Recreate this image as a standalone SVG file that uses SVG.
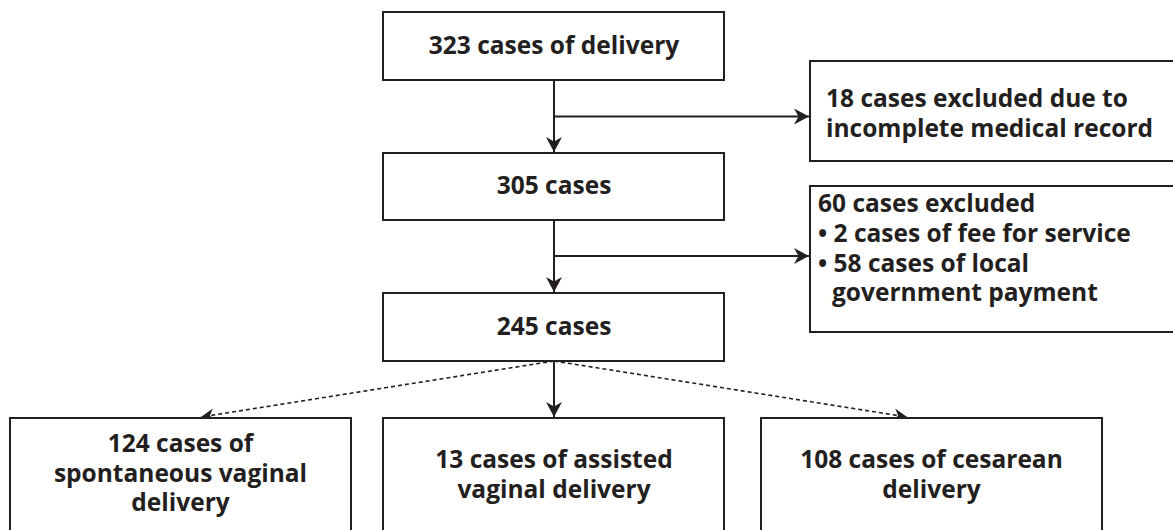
<svg xmlns="http://www.w3.org/2000/svg" width="1173" height="530" viewBox="0 0 1173 530">
<defs>
<marker id="ah" markerUnits="userSpaceOnUse" markerWidth="20" markerHeight="20" viewBox="-16 -10 20 20" refX="0" refY="0" orient="auto">
<path d="M0,0 L-15,-8 L-10.5,0 L-15,8 Z" fill="#231f20"/>
</marker>
<marker id="ahs" markerUnits="userSpaceOnUse" markerWidth="20" markerHeight="20" viewBox="-16 -10 20 20" refX="0" refY="0" orient="auto">
<path d="M0,0 L-13,-6.5 L-9,0 L-13,6.5 Z" fill="#231f20"/>
</marker>
</defs>
<style>
.box{fill:#fff;stroke:#231f20;stroke-width:2}
.t{font-family:"Open Sans","Noto Sans",sans-serif;font-weight:700;font-size:24.5px;fill:#231f20}
.c{text-anchor:middle}
.ln{fill:none;stroke:#231f20;stroke-width:2}
.ds{fill:none;stroke:#231f20;stroke-width:1.6;stroke-dasharray:4 3}
</style>
<rect width="1173" height="530" fill="#fff"/>
<g id="connectors">
<line class="ln" x1="554" y1="80" x2="554" y2="152" marker-end="url(#ah)"/>
<line class="ln" x1="554" y1="116.5" x2="809" y2="116.5" marker-end="url(#ah)"/>
<line class="ln" x1="554" y1="220" x2="554" y2="292" marker-end="url(#ah)"/>
<line class="ln" x1="554" y1="256" x2="809" y2="256" marker-end="url(#ah)"/>
<line class="ln" x1="554" y1="361" x2="554" y2="417" marker-end="url(#ah)"/>
<line class="ds" x1="554" y1="361" x2="201" y2="417" marker-end="url(#ahs)"/>
<line class="ds" x1="554" y1="361" x2="907" y2="417" marker-end="url(#ahs)"/>
</g>
<g id="n323">
<rect class="box" x="383" y="12" width="341" height="68"/>
<text class="t c" x="554" y="54">323 cases of delivery</text>
</g>
<g id="n18">
<rect class="box" x="810" y="61" width="380" height="100"/>
<text class="t" x="826" y="107">18 cases excluded due to</text>
<text class="t" x="826" y="137">incomplete medical record</text>
</g>
<g id="n305">
<rect class="box" x="383" y="153" width="341" height="67"/>
<text class="t c" x="554" y="194">305 cases</text>
</g>
<g id="n60">
<rect class="box" x="810" y="186" width="380" height="146"/>
<text class="t" x="818" y="212">60 cases excluded</text>
<text class="t" x="818" y="242">• 2 cases of fee for service</text>
<text class="t" x="818" y="272">• 58 cases of local</text>
<text class="t" x="832" y="301">government payment</text>
</g>
<g id="n245">
<rect class="box" x="383" y="293" width="341" height="68"/>
<text class="t c" x="554" y="335">245 cases</text>
</g>
<g id="n124">
<rect class="box" x="10" y="418" width="341" height="120"/>
<text class="t c" x="180.5" y="452">124 cases of</text>
<text class="t c" x="180.5" y="482">spontaneous vaginal</text>
<text class="t c" x="180.5" y="511">delivery</text>
</g>
<g id="n13">
<rect class="box" x="383" y="418" width="341" height="120"/>
<text class="t c" x="554" y="468">13 cases of assisted</text>
<text class="t c" x="554" y="498">vaginal delivery</text>
</g>
<g id="n108">
<rect class="box" x="761" y="418" width="341" height="120"/>
<text class="t c" x="931.5" y="468">108 cases of cesarean</text>
<text class="t c" x="931.5" y="498">delivery</text>
</g>
</svg>
